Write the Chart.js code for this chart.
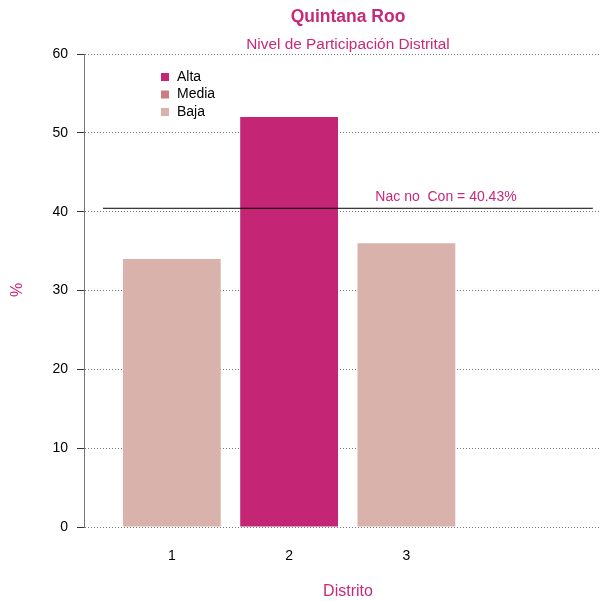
<!DOCTYPE html>
<html>
<head>
<meta charset="utf-8">
<script src="https://cdn.jsdelivr.net/npm/chart.js@4/dist/chart.umd.min.js"></script>
<style>
  html, body { margin: 0; padding: 0; background: #fff; }
  #wrap { width: 602px; height: 601px; }
</style>
</head>
<body>
<div id="wrap"><canvas id="myChart" width="602" height="601"></canvas></div>
<script>
// data
const distritos = [1, 2, 3];
const participacion = [34, 52, 36];
const nivel = ['Baja', 'Alta', 'Baja'];
const yTicks = [0, 10, 20, 30, 40, 50, 60];
const nacional = [40.43];
const refLineX = [0.413, 4.59];

const levelNames = ['Alta', 'Media', 'Baja'];
const levelColors = { Alta: '#c42574', Media: '#cd7d7f', Baja: '#d9b3ab' };
const pink = '#c8287a';
const font = '"Liberation Sans", Arial, sans-serif';

const extras = {
  id: 'extras',
  afterDraw(chart) {
    const ctx = chart.ctx;
    const y = chart.scales.y;
    ctx.save();
    ctx.fillStyle = pink;
    ctx.textAlign = 'center';
    ctx.textBaseline = 'middle';
    ctx.font = 'bold 17.5px ' + font;
    ctx.fillText('Quintana Roo', 348, 17);
    ctx.font = '15.4px ' + font;
    ctx.fillText('Nivel de Participación Distrital', 348, 45);
    ctx.font = '16px ' + font;
    ctx.fillText('Distrito', 348, 592);
    ctx.save();
    ctx.translate(18, 290);
    ctx.rotate(-Math.PI / 2);
    ctx.fillText('%', 0, 0);
    ctx.restore();
    // reference label
    ctx.font = '14px ' + font;
    ctx.fillText('Nac no  Con = ' + nacional[0] + '%', 446, y.getPixelForValue(nacional[0]) - 11);
    // legend
    ctx.textAlign = 'left';
    levelNames.forEach((n, i) => {
      const cy = 77 + i * 17.5;
      ctx.fillStyle = levelColors[n];
      ctx.fillRect(161, cy - 4, 8, 8);
      ctx.fillStyle = '#000';
      ctx.fillText(n, 177, cy);
    });
    ctx.restore();
  }
};

const config = {
  type: 'bar',
  data: {
    datasets: [{
      label: 'Participación',
      data: distritos.map((d, i) => ({ x: d, y: participacion[i] })),
      backgroundColor: nivel.map(n => levelColors[n]),
      borderWidth: 0,
      categoryPercentage: 1,
      barPercentage: 0.834,
      order: 2
    }, {
      type: 'line',
      label: 'Nacional',
      data: refLineX.map(v => ({ x: v, y: nacional[0] })),
      borderColor: '#000',
      borderWidth: 1,
      pointRadius: 0,
      order: 1
    }]
  },
  options: {
    responsive: false,
    animation: false,
    layout: { padding: { top: 54, right: 2, left: 0, bottom: 0 } },
    plugins: { legend: { display: false }, tooltip: { enabled: false } },
    scales: {
      x: {
        type: 'linear',
        min: 0.251,
        max: 4.651,
        offset: false,
        grid: { display: false, drawTicks: false, offset: false },
        border: { display: false },
        afterBuildTicks: s => { s.ticks = distritos.map(v => ({ value: v })); },
        afterFit: s => { s.height = 74; },
        ticks: { padding: 21, color: '#000', font: { family: font, size: 14 }, callback: v => String(v) }
      },
      y: {
        min: 0,
        max: 60,
        afterBuildTicks: s => { s.ticks = yTicks.map(v => ({ value: v })); },
        afterFit: s => { s.width = 84; },
        grid: {
          color: '#777',
          lineWidth: 1,
          tickLength: 7,
          tickColor: '#333',
          tickBorderDash: [],
          tickWidth: 1
        },
        border: { display: true, color: '#777', width: 1, dash: [1, 2] },
        ticks: { padding: 9, color: '#000', font: { family: font, size: 14 } }
      }
    }
  },
  plugins: [extras]
};

const ctx = document.getElementById('myChart').getContext('2d');
new Chart(ctx, config);
</script>
</body>
</html>
